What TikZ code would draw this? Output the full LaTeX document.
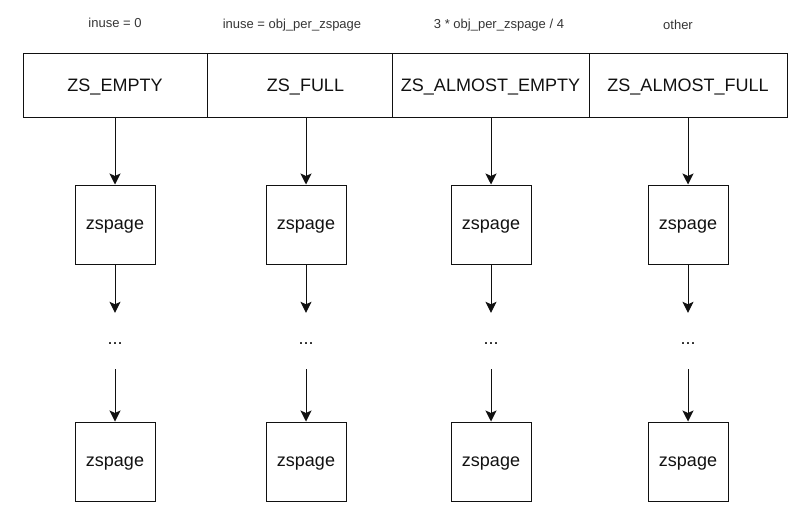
\documentclass[tikz,border=0pt]{standalone}
\usepackage{fontspec}
\setmainfont{Liberation Sans}
\usetikzlibrary{arrows.meta}
\definecolor{ink}{HTML}{111111}
\begin{document}
\begin{tikzpicture}[x=1pt,y=-1pt,
  cell/.style={draw=ink, line width=1pt, minimum height=64pt, inner sep=0pt, text height=12.9pt, text depth=0pt, font=\fontsize{18}{20}\selectfont, text=ink},
  pagebox/.style={draw=ink, line width=1pt, minimum width=80pt, minimum height=79pt, inner sep=0pt, text height=9.4pt, text depth=0pt, font=\fontsize{18}{20}\selectfont, text=ink},
  dotsnode/.style={minimum height=56pt, minimum width=30pt, inner sep=0pt, text height=6pt, text depth=0pt, font=\fontsize{18}{20}\selectfont, text=ink},
  cond/.style={inner sep=0pt, text height=9.5pt, text depth=0pt, font=\fontsize{13}{15}\selectfont, text=ink!85},
  arr/.style={draw=ink, line width=1pt, -{Stealth[length=11pt,width=11pt,inset=2.5pt]}}]
\useasboundingbox (0,0) rectangle (810,530);
% condition labels
\node[cond] (c1) at (115,23) {inuse = 0};
\node[cond] (c2) at (292,24) {inuse = obj\_per\_zspage};
\node[cond] (c3) at (499,24) {3 * obj\_per\_zspage / 4};
\node[cond] (c4) at (678,25) {other};
% header cells
\node[cell, minimum width=184pt] (h1) at (115,85) {ZS\_EMPTY};
\node[cell, minimum width=185pt] (h2) at (299.5,85) {\hspace{12pt}ZS\_FULL};
\node[cell, minimum width=197pt] (h3) at (490.5,85) {ZS\_ALMOST\_EMPTY};
\node[cell, minimum width=198pt] (h4) at (688,85) {ZS\_ALMOST\_FULL};
% columns
\foreach \i/\x in {1/115, 2/306, 3/491, 4/688}{
  \node[pagebox] (a\i) at (\x,224.5) {zspage};
  \node[dotsnode] (d\i) at (\x,341) {...};
  \node[pagebox] (b\i) at (\x,461.5) {zspage};
  \draw[arr] (a\i |- h\i.south) -- (a\i.north);
  \draw[arr] (a\i.south) -- (d\i.north);
  \draw[arr] (d\i.south) -- (b\i.north);
}
\end{tikzpicture}
\end{document}
